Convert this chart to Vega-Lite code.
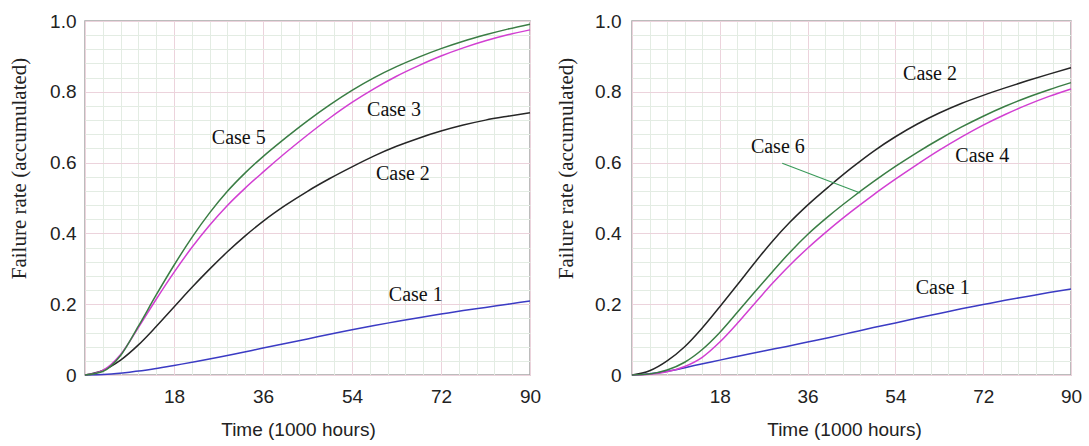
{
  "$schema": "https://vega.github.io/schema/vega-lite/v6.json",
  "padding": {"left": 7, "top": 11, "right": 4, "bottom": 4},
  "spacing": 12,
  "background": "white",
  "config": {
    "view": {"stroke": "#a6a6a6", "strokeWidth": 1.5},
    "axis": {
      "labelFont": "Liberation Sans", "labelFontSize": 19, "labelColor": "#222222",
      "titleFont": "Liberation Sans", "titleFontSize": 19, "titleFontWeight": "normal", "titleColor": "#222222",
      "domain": false, "ticks": false, "gridWidth": 1, "labelOverlap": false, "labelFlush": false
    }
  },
  "datasets": {
    "left": [
      {"series": "Case 1", "t": 0, "v": 0}, {"series": "Case 1", "t": 4.5, "v": 0.002}, {"series": "Case 1", "t": 9, "v": 0.008}, {"series": "Case 1", "t": 13.5, "v": 0.016}, {"series": "Case 1", "t": 18, "v": 0.027}, {"series": "Case 1", "t": 22.5, "v": 0.038}, {"series": "Case 1", "t": 27, "v": 0.05}, {"series": "Case 1", "t": 31.5, "v": 0.063}, {"series": "Case 1", "t": 36, "v": 0.076}, {"series": "Case 1", "t": 40.5, "v": 0.089}, {"series": "Case 1", "t": 45, "v": 0.102}, {"series": "Case 1", "t": 49.5, "v": 0.115}, {"series": "Case 1", "t": 54, "v": 0.128}, {"series": "Case 1", "t": 58.5, "v": 0.14}, {"series": "Case 1", "t": 63, "v": 0.151}, {"series": "Case 1", "t": 67.5, "v": 0.162}, {"series": "Case 1", "t": 72, "v": 0.172}, {"series": "Case 1", "t": 76.5, "v": 0.182}, {"series": "Case 1", "t": 81, "v": 0.191}, {"series": "Case 1", "t": 85.5, "v": 0.2}, {"series": "Case 1", "t": 90, "v": 0.209},
      {"series": "Case 2", "t": 0, "v": 0}, {"series": "Case 2", "t": 3.6, "v": 0.013}, {"series": "Case 2", "t": 7.2, "v": 0.042}, {"series": "Case 2", "t": 10.8, "v": 0.085}, {"series": "Case 2", "t": 14.4, "v": 0.137}, {"series": "Case 2", "t": 18, "v": 0.192}, {"series": "Case 2", "t": 21.6, "v": 0.247}, {"series": "Case 2", "t": 25.2, "v": 0.299}, {"series": "Case 2", "t": 28.8, "v": 0.348}, {"series": "Case 2", "t": 32.4, "v": 0.393}, {"series": "Case 2", "t": 36, "v": 0.434}, {"series": "Case 2", "t": 40.5, "v": 0.479}, {"series": "Case 2", "t": 45, "v": 0.519}, {"series": "Case 2", "t": 49.5, "v": 0.555}, {"series": "Case 2", "t": 54, "v": 0.588}, {"series": "Case 2", "t": 58.5, "v": 0.619}, {"series": "Case 2", "t": 63, "v": 0.646}, {"series": "Case 2", "t": 67.5, "v": 0.669}, {"series": "Case 2", "t": 72, "v": 0.689}, {"series": "Case 2", "t": 76.5, "v": 0.706}, {"series": "Case 2", "t": 81, "v": 0.72}, {"series": "Case 2", "t": 85.5, "v": 0.731}, {"series": "Case 2", "t": 90, "v": 0.741},
      {"series": "Case 3", "t": 0, "v": 0}, {"series": "Case 3", "t": 3.6, "v": 0.013}, {"series": "Case 3", "t": 7.2, "v": 0.058}, {"series": "Case 3", "t": 10.8, "v": 0.134}, {"series": "Case 3", "t": 14.4, "v": 0.214}, {"series": "Case 3", "t": 18, "v": 0.29}, {"series": "Case 3", "t": 21.6, "v": 0.36}, {"series": "Case 3", "t": 25.2, "v": 0.423}, {"series": "Case 3", "t": 28.8, "v": 0.479}, {"series": "Case 3", "t": 32.4, "v": 0.528}, {"series": "Case 3", "t": 36, "v": 0.573}, {"series": "Case 3", "t": 40.5, "v": 0.627}, {"series": "Case 3", "t": 45, "v": 0.678}, {"series": "Case 3", "t": 49.5, "v": 0.726}, {"series": "Case 3", "t": 54, "v": 0.77}, {"series": "Case 3", "t": 58.5, "v": 0.809}, {"series": "Case 3", "t": 63, "v": 0.844}, {"series": "Case 3", "t": 67.5, "v": 0.874}, {"series": "Case 3", "t": 72, "v": 0.901}, {"series": "Case 3", "t": 76.5, "v": 0.924}, {"series": "Case 3", "t": 81, "v": 0.944}, {"series": "Case 3", "t": 85.5, "v": 0.961}, {"series": "Case 3", "t": 90, "v": 0.975},
      {"series": "Case 5", "t": 0, "v": 0}, {"series": "Case 5", "t": 3.6, "v": 0.01}, {"series": "Case 5", "t": 7.2, "v": 0.055}, {"series": "Case 5", "t": 10.8, "v": 0.138}, {"series": "Case 5", "t": 14.4, "v": 0.226}, {"series": "Case 5", "t": 18, "v": 0.31}, {"series": "Case 5", "t": 21.6, "v": 0.388}, {"series": "Case 5", "t": 25.2, "v": 0.458}, {"series": "Case 5", "t": 28.8, "v": 0.519}, {"series": "Case 5", "t": 32.4, "v": 0.571}, {"series": "Case 5", "t": 36, "v": 0.617}, {"series": "Case 5", "t": 40.5, "v": 0.669}, {"series": "Case 5", "t": 45, "v": 0.718}, {"series": "Case 5", "t": 49.5, "v": 0.763}, {"series": "Case 5", "t": 54, "v": 0.804}, {"series": "Case 5", "t": 58.5, "v": 0.84}, {"series": "Case 5", "t": 63, "v": 0.871}, {"series": "Case 5", "t": 67.5, "v": 0.898}, {"series": "Case 5", "t": 72, "v": 0.922}, {"series": "Case 5", "t": 76.5, "v": 0.943}, {"series": "Case 5", "t": 81, "v": 0.961}, {"series": "Case 5", "t": 85.5, "v": 0.977}, {"series": "Case 5", "t": 90, "v": 0.991}
    ],
    "right": [
      {"series": "Case 1", "t": 0, "v": 0}, {"series": "Case 1", "t": 4.5, "v": 0.005}, {"series": "Case 1", "t": 9, "v": 0.015}, {"series": "Case 1", "t": 13.5, "v": 0.029}, {"series": "Case 1", "t": 18, "v": 0.042}, {"series": "Case 1", "t": 22.5, "v": 0.055}, {"series": "Case 1", "t": 27, "v": 0.068}, {"series": "Case 1", "t": 31.5, "v": 0.08}, {"series": "Case 1", "t": 36, "v": 0.093}, {"series": "Case 1", "t": 40.5, "v": 0.106}, {"series": "Case 1", "t": 45, "v": 0.12}, {"series": "Case 1", "t": 49.5, "v": 0.134}, {"series": "Case 1", "t": 54, "v": 0.147}, {"series": "Case 1", "t": 58.5, "v": 0.161}, {"series": "Case 1", "t": 63, "v": 0.174}, {"series": "Case 1", "t": 67.5, "v": 0.187}, {"series": "Case 1", "t": 72, "v": 0.199}, {"series": "Case 1", "t": 76.5, "v": 0.211}, {"series": "Case 1", "t": 81, "v": 0.222}, {"series": "Case 1", "t": 85.5, "v": 0.233}, {"series": "Case 1", "t": 90, "v": 0.243},
      {"series": "Case 2", "t": 0, "v": 0}, {"series": "Case 2", "t": 3.6, "v": 0.012}, {"series": "Case 2", "t": 7.2, "v": 0.04}, {"series": "Case 2", "t": 10.8, "v": 0.08}, {"series": "Case 2", "t": 14.4, "v": 0.133}, {"series": "Case 2", "t": 18, "v": 0.193}, {"series": "Case 2", "t": 21.6, "v": 0.255}, {"series": "Case 2", "t": 25.2, "v": 0.318}, {"series": "Case 2", "t": 28.8, "v": 0.378}, {"series": "Case 2", "t": 32.4, "v": 0.432}, {"series": "Case 2", "t": 36, "v": 0.48}, {"series": "Case 2", "t": 40.5, "v": 0.534}, {"series": "Case 2", "t": 45, "v": 0.585}, {"series": "Case 2", "t": 49.5, "v": 0.632}, {"series": "Case 2", "t": 54, "v": 0.673}, {"series": "Case 2", "t": 58.5, "v": 0.709}, {"series": "Case 2", "t": 63, "v": 0.74}, {"series": "Case 2", "t": 67.5, "v": 0.767}, {"series": "Case 2", "t": 72, "v": 0.79}, {"series": "Case 2", "t": 76.5, "v": 0.811}, {"series": "Case 2", "t": 81, "v": 0.831}, {"series": "Case 2", "t": 85.5, "v": 0.85}, {"series": "Case 2", "t": 90, "v": 0.868},
      {"series": "Case 4", "t": 0, "v": 0}, {"series": "Case 4", "t": 3.6, "v": 0.002}, {"series": "Case 4", "t": 7.2, "v": 0.009}, {"series": "Case 4", "t": 10.8, "v": 0.024}, {"series": "Case 4", "t": 14.4, "v": 0.05}, {"series": "Case 4", "t": 18, "v": 0.093}, {"series": "Case 4", "t": 21.6, "v": 0.146}, {"series": "Case 4", "t": 25.2, "v": 0.203}, {"series": "Case 4", "t": 28.8, "v": 0.259}, {"series": "Case 4", "t": 32.4, "v": 0.311}, {"series": "Case 4", "t": 36, "v": 0.358}, {"series": "Case 4", "t": 40.5, "v": 0.412}, {"series": "Case 4", "t": 45, "v": 0.462}, {"series": "Case 4", "t": 49.5, "v": 0.509}, {"series": "Case 4", "t": 54, "v": 0.553}, {"series": "Case 4", "t": 58.5, "v": 0.595}, {"series": "Case 4", "t": 63, "v": 0.635}, {"series": "Case 4", "t": 67.5, "v": 0.672}, {"series": "Case 4", "t": 72, "v": 0.706}, {"series": "Case 4", "t": 76.5, "v": 0.736}, {"series": "Case 4", "t": 81, "v": 0.763}, {"series": "Case 4", "t": 85.5, "v": 0.787}, {"series": "Case 4", "t": 90, "v": 0.808},
      {"series": "Case 6", "t": 0, "v": 0}, {"series": "Case 6", "t": 3.6, "v": 0.003}, {"series": "Case 6", "t": 7.2, "v": 0.014}, {"series": "Case 6", "t": 10.8, "v": 0.036}, {"series": "Case 6", "t": 14.4, "v": 0.072}, {"series": "Case 6", "t": 18, "v": 0.12}, {"series": "Case 6", "t": 21.6, "v": 0.177}, {"series": "Case 6", "t": 25.2, "v": 0.235}, {"series": "Case 6", "t": 28.8, "v": 0.292}, {"series": "Case 6", "t": 32.4, "v": 0.347}, {"series": "Case 6", "t": 36, "v": 0.397}, {"series": "Case 6", "t": 40.5, "v": 0.451}, {"series": "Case 6", "t": 45, "v": 0.5}, {"series": "Case 6", "t": 49.5, "v": 0.546}, {"series": "Case 6", "t": 54, "v": 0.589}, {"series": "Case 6", "t": 58.5, "v": 0.629}, {"series": "Case 6", "t": 63, "v": 0.666}, {"series": "Case 6", "t": 67.5, "v": 0.7}, {"series": "Case 6", "t": 72, "v": 0.731}, {"series": "Case 6", "t": 76.5, "v": 0.759}, {"series": "Case 6", "t": 81, "v": 0.784}, {"series": "Case 6", "t": 85.5, "v": 0.806}, {"series": "Case 6", "t": 90, "v": 0.826}
    ],
    "leftLabels": [
      {"label": "Case 5", "t": 31.1, "v": 0.67},
      {"label": "Case 3", "t": 62.5, "v": 0.75},
      {"label": "Case 2", "t": 64.3, "v": 0.568},
      {"label": "Case 1", "t": 66.9, "v": 0.227}
    ],
    "rightLabels": [
      {"label": "Case 2", "t": 61.1, "v": 0.851},
      {"label": "Case 6", "t": 29.9, "v": 0.645},
      {"label": "Case 4", "t": 71.8, "v": 0.62},
      {"label": "Case 1", "t": 63.7, "v": 0.245}
    ],
    "pointer": [
      {"t": 30.8, "v": 0.598, "t2": 46.8, "v2": 0.514}
    ]
  },
  "hconcat": [
    {
      "width": 445,
      "height": 354,
      "layer": [
        {
          "data": {"name": "left"},
          "mark": {"type": "line", "interpolate": "monotone", "strokeWidth": 1.5},
          "encoding": {
            "x": {
              "field": "t", "type": "quantitative",
              "scale": {"domain": [0, 90], "nice": false},
              "axis": {
                "title": "Time (1000 hours)",
                "titleX": 213,
                "values": [0, 3.6, 7.2, 10.8, 14.4, 18, 21.6, 25.2, 28.8, 32.4, 36, 39.6, 43.2, 46.8, 50.4, 54, 57.6, 61.2, 64.8, 68.4, 72, 75.6, 79.2, 82.8, 86.4, 90],
                "tickCount": 40,
                "labelOverlap": false, "labelFlush": false,
                "labelExpr": "datum.value % 18 === 0 && datum.value > 0 ? format(datum.value, 'd') : ''",
                "gridColor": {"condition": {"test": "datum.value % 18 === 0", "value": "#ecd3dc"}, "value": "#e3ece3"},
                "labelPadding": 12,
                "titlePadding": 14
              }
            },
            "y": {
              "field": "v", "type": "quantitative",
              "scale": {"domain": [0, 1], "nice": false},
              "axis": {
                "title": "Failure rate  (accumulated)",
                "titleFont": "Liberation Serif", "titleFontSize": 21,
                "titleY": 147,
                "values": [0, 0.04, 0.08, 0.12, 0.16, 0.2, 0.24, 0.28, 0.32, 0.36, 0.4, 0.44, 0.48, 0.52, 0.56, 0.6, 0.64, 0.68, 0.72, 0.76, 0.8, 0.84, 0.88, 0.92, 0.96, 1],
                "tickCount": 40,
                "labelOverlap": false, "labelFlush": false,
                "labelExpr": "abs(datum.value * 5 - round(datum.value * 5)) < 0.001 ? (datum.value === 0 ? '0' : format(datum.value, '.1f')) : ''",
                "gridColor": {"condition": {"test": "abs(datum.value * 5 - round(datum.value * 5)) < 0.001", "value": "#ecd3dc"}, "value": "#e3ece3"},
                "labelPadding": 9,
                "titlePadding": 20
              }
            },
            "color": {
              "field": "series", "type": "nominal", "legend": null,
              "scale": {"domain": ["Case 1", "Case 2", "Case 3", "Case 4", "Case 5", "Case 6"], "range": ["#3b3bc4", "#262626", "#d23fd2", "#d23fd2", "#3a7d44", "#3a7d44"]}
            }
          }
        },
        {
          "data": {"name": "leftLabels"},
          "mark": {"type": "text", "font": "Liberation Serif", "fontSize": 20, "color": "#111111"},
          "encoding": {
            "x": {"field": "t", "type": "quantitative"},
            "y": {"field": "v", "type": "quantitative"},
            "text": {"field": "label"}
          }
        }
      ]
    },
    {
      "width": 439,
      "height": 354,
      "layer": [
        {
          "data": {"name": "right"},
          "mark": {"type": "line", "interpolate": "monotone", "strokeWidth": 1.5},
          "encoding": {
            "x": {
              "field": "t", "type": "quantitative",
              "scale": {"domain": [0, 90], "nice": false},
              "axis": {
                "title": "Time (1000 hours)",
                "titleX": 212,
                "values": [0, 3.6, 7.2, 10.8, 14.4, 18, 21.6, 25.2, 28.8, 32.4, 36, 39.6, 43.2, 46.8, 50.4, 54, 57.6, 61.2, 64.8, 68.4, 72, 75.6, 79.2, 82.8, 86.4, 90],
                "tickCount": 40,
                "labelOverlap": false, "labelFlush": false,
                "labelExpr": "datum.value % 18 === 0 && datum.value > 0 ? format(datum.value, 'd') : ''",
                "gridColor": {"condition": {"test": "datum.value % 18 === 0", "value": "#ecd3dc"}, "value": "#e3ece3"},
                "labelPadding": 12,
                "titlePadding": 14
              }
            },
            "y": {
              "field": "v", "type": "quantitative",
              "scale": {"domain": [0, 1], "nice": false},
              "axis": {
                "title": "Failure rate  (accumulated)",
                "titleFont": "Liberation Serif", "titleFontSize": 21,
                "titleY": 147,
                "values": [0, 0.04, 0.08, 0.12, 0.16, 0.2, 0.24, 0.28, 0.32, 0.36, 0.4, 0.44, 0.48, 0.52, 0.56, 0.6, 0.64, 0.68, 0.72, 0.76, 0.8, 0.84, 0.88, 0.92, 0.96, 1],
                "tickCount": 40,
                "labelOverlap": false, "labelFlush": false,
                "labelExpr": "abs(datum.value * 5 - round(datum.value * 5)) < 0.001 ? (datum.value === 0 ? '0' : format(datum.value, '.1f')) : ''",
                "gridColor": {"condition": {"test": "abs(datum.value * 5 - round(datum.value * 5)) < 0.001", "value": "#ecd3dc"}, "value": "#e3ece3"},
                "labelPadding": 11,
                "titlePadding": 18
              }
            },
            "color": {
              "field": "series", "type": "nominal", "legend": null,
              "scale": {"domain": ["Case 1", "Case 2", "Case 3", "Case 4", "Case 5", "Case 6"], "range": ["#3b3bc4", "#262626", "#d23fd2", "#d23fd2", "#3a7d44", "#3a7d44"]}
            }
          }
        },
        {
          "data": {"name": "pointer"},
          "mark": {"type": "rule", "color": "#3a9a5a", "strokeWidth": 1.2},
          "encoding": {
            "x": {"field": "t", "type": "quantitative"},
            "y": {"field": "v", "type": "quantitative"},
            "x2": {"field": "t2"},
            "y2": {"field": "v2"}
          }
        },
        {
          "data": {"name": "rightLabels"},
          "mark": {"type": "text", "font": "Liberation Serif", "fontSize": 20, "color": "#111111"},
          "encoding": {
            "x": {"field": "t", "type": "quantitative"},
            "y": {"field": "v", "type": "quantitative"},
            "text": {"field": "label"}
          }
        }
      ]
    }
  ]
}
